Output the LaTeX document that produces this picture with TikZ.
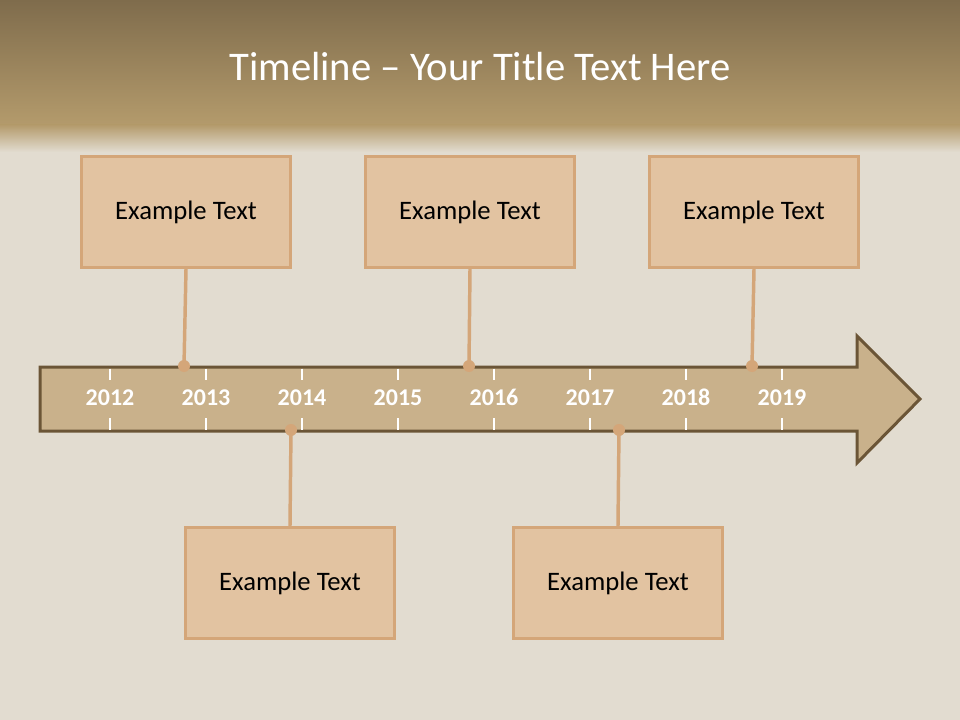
\documentclass[tikz,border=0pt]{standalone}
\usepackage{fontspec}
\setmainfont{Carlito}
\usetikzlibrary{positioning}

\definecolor{paper}{HTML}{E2DCD0}
\definecolor{headdark}{HTML}{7F6C4C}
\definecolor{headlight}{HTML}{B49B6C}
\definecolor{arrowfill}{HTML}{C9B18B}
\definecolor{arrowline}{HTML}{6B5536}
\definecolor{boxfill}{HTML}{E2C3A1}
\definecolor{boxline}{HTML}{D4A679}

\tikzset{
    eventbox/.style={draw=boxline,fill=boxfill,line width=2.25pt,
        minimum width=156.75pt,minimum height=83.25pt,font=\fontsize{20}{24}\selectfont},
    yearlabel/.style={text=white,anchor=base,font=\fontsize{18}{21}\selectfont\bfseries},
    pin/.style={circle,fill=boxline,inner sep=0pt,minimum size=9pt},
    stem/.style={draw=boxline,line width=2.6pt}
}

\begin{document}
\begin{tikzpicture}[x=0.75pt,y=-0.75pt]%
        \useasboundingbox (0,0) rectangle (960,720);
        % background and header band
        \fill[paper] (0,0) rectangle (960,720);
        \shade[top color=headdark,bottom color=headlight] (0,0) rectangle (960,126);
        \shade[top color=headlight,bottom color=paper] (0,125) rectangle (960,152);
        \node[text=white,font=\fontsize{30.5}{36}\selectfont] (title) at (480,67) {Timeline – Your Title Text Here};
        % the arrow
        \draw[fill=arrowfill,draw=arrowline,line width=2.25pt,line join=miter]
            (40,367) -- (857,367) -- (857,336) -- (920,399) -- (857,463) -- (857,431) -- (40,431) -- cycle;
        \foreach \yr [count=\i from 0] in {2012,2013,2014,2015,2016,2017,2018,2019} {
            \draw[white,line width=0.9pt] (110+96*\i,368.5) -- ++(0,11);
            \draw[white,line width=0.9pt] (110+96*\i,418) -- ++(0,11.5);
            \node[yearlabel] (y\yr) at (110+96*\i,405) {\yr};
        }
        % events above
        \node[eventbox] (ev1) at (186,212) {Example Text};
        \node[eventbox] (ev2) at (470,212) {Example Text};
        \node[eventbox] (ev3) at (754,212) {Example Text};
        \node[pin] (p1) at (184,366) {};
        \node[pin] (p2) at (469,366) {};
        \node[pin] (p3) at (752,366) {};
        \draw[stem] (ev1.south) -- (p1.center);
        \draw[stem] (ev2.south) -- (p2.center);
        \draw[stem] (ev3.south) -- (p3.center);
        % events below
        \node[eventbox] (ev4) at (290,583) {Example Text};
        \node[eventbox] (ev5) at (618,583) {Example Text};
        \node[pin] (p4) at (291,430) {};
        \node[pin] (p5) at (619,430) {};
        \draw[stem] (ev4.north) -- (p4.center);
        \draw[stem] (ev5.north) -- (p5.center);
    \end{tikzpicture}
\end{document}
